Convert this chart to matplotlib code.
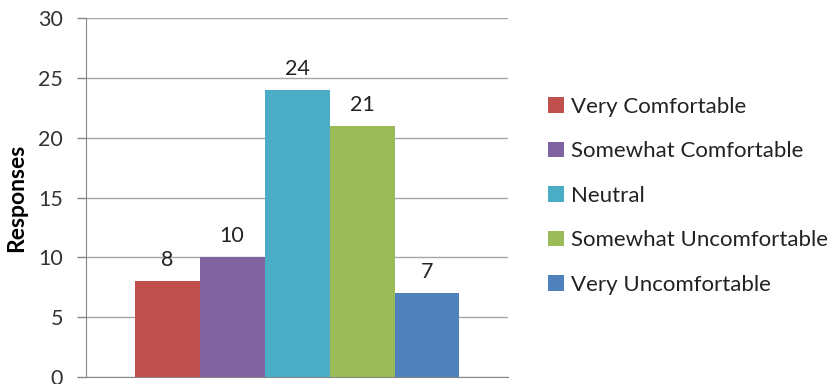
import matplotlib.pyplot as plt
import numpy as np

# Respuestas por categoría
categorias = ["Very Comfortable", "Somewhat Comfortable", "Neutral",
              "Somewhat Uncomfortable", "Very Uncomfortable"]
respuestas = [8, 10, 24, 21, 7]
colores = ["#C0504D", "#8064A2", "#4BACC6", "#9BBB59", "#4F81BD"]
yticks = [0, 5, 10, 15, 20, 25, 30]

plt.rcParams['font.family'] = ['Lato', 'DejaVu Sans']

fig = plt.figure(figsize=(8.32, 3.84), dpi=100)
ax = fig.add_axes([0.1034, 0.0182, 0.5072, 0.9348])

# Barras agrupadas en una sola categoría
ancho = 0.154
n = len(respuestas)
posiciones = 0.5 + (np.arange(n) - (n - 1) / 2) * ancho
barras = ax.bar(posiciones, respuestas, width=ancho, color=colores,
                label=categorias, zorder=3)

# Etiquetas de valor encima de cada barra
for b, v in zip(barras, respuestas):
    ax.annotate(str(v), (b.get_x() + b.get_width() / 2, v),
                xytext=(0, 8), textcoords="offset points",
                ha="center", va="bottom", fontsize=15.5, color="#222222")

ax.set_xlim(0, 1)
ax.set_ylim(0, 30)
ax.set_yticks(yticks)
ax.set_xticks([])
ax.tick_params(axis="y", labelsize=15.5, length=6.5, width=1, color="#868686",
               labelcolor="#333333", pad=10)
ax.yaxis.grid(True, color="#A6A6A6", linewidth=1, zorder=0)
for lado in ["top", "right"]:
    ax.spines[lado].set_visible(False)
ax.spines["left"].set_color("#868686")
ax.spines["bottom"].set_color("#868686")

ax.set_ylabel("Responses", fontsize=16.5, fontweight="bold")
ax.yaxis.set_label_coords(-0.14, 0.5)

# Leyenda a la derecha
fig.legend(handles=barras, labels=categorias, loc="center left",
           bbox_to_anchor=(0.659, 0.49), frameon=False, fontsize=16,
           borderaxespad=0, borderpad=0,
           handlelength=0.7, handleheight=0.7, handletextpad=0.3,
           labelspacing=1.1, labelcolor="#222222")

plt.savefig("out.png", dpi=100)
